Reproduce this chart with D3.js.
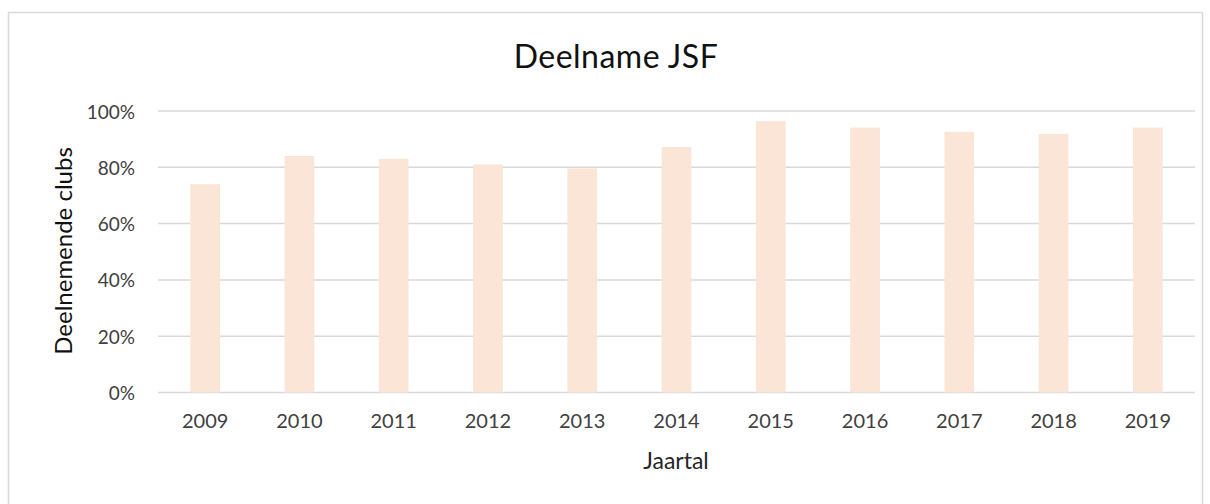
<!DOCTYPE html>
<html>
<head>
<meta charset="utf-8">
<script src="https://cdn.jsdelivr.net/npm/d3@7"></script>
<style>
  body { margin: 0; background: #fff; }
  svg { display: block; font-family: Lato, "Open Sans", sans-serif; }
</style>
</head>
<body>
<svg id="chart" width="1210" height="504"></svg>
<script>
"use strict";

const years = ["2009", "2010", "2011", "2012", "2013", "2014", "2015", "2016", "2017", "2018", "2019"];
const participation = [0.74, 0.84, 0.83, 0.81, 0.796, 0.872, 0.964, 0.941, 0.926, 0.918, 0.941];
const yTicks = [0, 0.2, 0.4, 0.6, 0.8, 1.0];

const svg = d3.select("#chart");

// chart frame
svg.append("rect")
    .attr("x", 8.5).attr("y", 12.5)
    .attr("width", 1194).attr("height", 520)
    .attr("fill", "#fff")
    .attr("stroke", "#d9d9d9")
    .attr("stroke-width", 1.5);

const x = d3.scaleBand()
    .domain(years)
    .range([158, 1195])
    .paddingInner(0.685)
    .paddingOuter(0.3425);

const y = d3.scaleLinear()
    .domain([0, 1])
    .range([392.5, 111]);

// gridlines
svg.append("g")
    .selectAll("line")
    .data(yTicks)
    .join("line")
    .attr("x1", 158).attr("x2", 1195)
    .attr("y1", d => y(d)).attr("y2", d => y(d))
    .attr("stroke", "#d9d9d9")
    .attr("stroke-width", 1.5);

// bars
svg.append("g")
    .selectAll("rect")
    .data(years.map((yr, i) => ({ yr: yr, v: participation[i] })))
    .join("rect")
    .attr("x", d => x(d.yr))
    .attr("y", d => y(d.v))
    .attr("width", x.bandwidth())
    .attr("height", d => y(0) - y(d.v))
    .attr("fill", "#fbe5d6");

// y axis labels
const yAxis = d3.axisLeft(y)
    .tickValues(yTicks)
    .tickFormat(d3.format(".0%"))
    .tickSize(0)
    .tickPadding(0);

svg.append("g")
    .attr("transform", "translate(135,1)")
    .call(yAxis)
    .call(g => g.select(".domain").remove())
    .selectAll("text")
    .attr("font-family", "Lato, 'Open Sans', sans-serif")
    .attr("font-size", 19)
    .attr("fill", "#404040");

// x axis labels
const xAxis = d3.axisBottom(x).tickSize(0).tickPadding(0);

svg.append("g")
    .attr("transform", "translate(0,414)")
    .call(xAxis)
    .call(g => g.select(".domain").remove())
    .selectAll("text")
    .attr("font-family", "Lato, 'Open Sans', sans-serif")
    .attr("font-size", 20)
    .attr("fill", "#404040");

// title
svg.append("text")
    .attr("x", 616).attr("y", 68)
    .attr("text-anchor", "middle")
    .attr("font-size", 32)
    .attr("letter-spacing", 0.5)
    .attr("fill", "#111")
    .text("Deelname JSF");

// axis titles
svg.append("text")
    .attr("x", 676).attr("y", 469)
    .attr("text-anchor", "middle")
    .attr("font-size", 23)
    .attr("fill", "#262626")
    .text("Jaartal");

svg.append("text")
    .attr("transform", "translate(72,251) rotate(-90)")
    .attr("text-anchor", "middle")
    .attr("font-size", 24)
    .attr("fill", "#111")
    .text("Deelnemende clubs");
</script>
</body>
</html>
